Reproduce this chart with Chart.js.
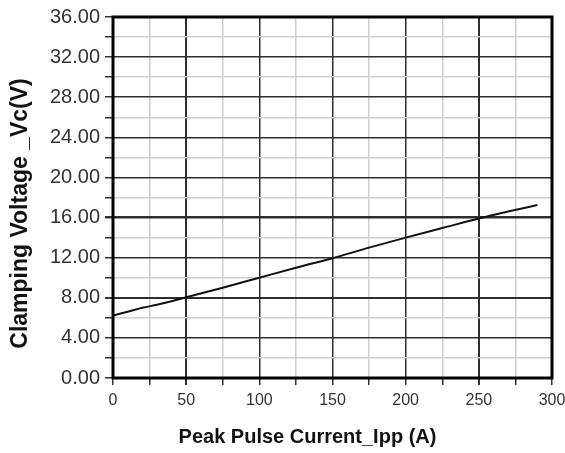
<!DOCTYPE html>
<html lang="en">
<head>
    <meta charset="UTF-8">
    <title>Clamping Voltage vs Peak Pulse Current</title>
    <script src="https://cdn.jsdelivr.net/npm/chart.js"></script>
    <style>
        body { margin: 0; background: #fff; }
    </style>
</head>
<body>
    <canvas id="vcChart" width="565" height="453"></canvas>
    <script>
        const currentA = [0, 10, 20, 30, 40, 50, 75, 100, 125, 150, 175, 200, 225, 250, 270, 290];
        const clampV = [6.25, 6.6, 7.0, 7.3, 7.65, 8.05, 9.0, 10.0, 11.0, 11.95, 13.0, 14.0, 14.95, 15.9, 16.6, 17.25];

        const xMin = 0, xMax = 300, xStep = 25, xLabelEvery = 50;
        const yMin = 0, yMax = 36, yStep = 2, yLabelEvery = 4;

        const frame = {
            id: 'frame',
            afterDraw(chart) {
                const a = chart.chartArea;
                const c = chart.ctx;
                c.save();
                c.strokeStyle = '#000';
                c.lineWidth = 3;
                c.strokeRect(a.left, a.top, a.right - a.left, a.bottom - a.top);
                c.restore();
            }
        };

        function gridColor(ctx, every) {
            const v = ctx.tick ? ctx.tick.value : 0;
            return (Math.abs(v % every) < 1e-6) ? '#2e2e2e' : '#cfcfcf';
        }

        new Chart(document.getElementById('vcChart'), {
            type: 'line',
            data: {
                datasets: [{
                    data: currentA.map((x, i) => ({ x: x, y: clampV[i] })),
                    borderColor: '#111',
                    borderWidth: 2,
                    pointRadius: 0,
                    cubicInterpolationMode: 'monotone',
                    fill: false
                }]
            },
            options: {
                responsive: false,
                animation: false,
                layout: { padding: { left: 0, right: 13, top: 17, bottom: 0 } },
                plugins: { legend: { display: false }, tooltip: { enabled: false } },
                scales: {
                    x: {
                        type: 'linear',
                        min: xMin, max: xMax,
                        afterFit: s => { s.height = 75; s.paddingRight = 0; },
                        grid: {
                            color: ctx => gridColor(ctx, xLabelEvery),
                            lineWidth: ctx => (ctx.tick && (ctx.tick.value === 50 || ctx.tick.value === 250)) ? 2 : 1.5,
                            tickColor: '#333',
                            tickLength: 7,
                            drawTicks: true
                        },
                        border: { display: false },
                        ticks: {
                            stepSize: xStep,
                            padding: 6,
                            color: '#333',
                            font: { family: 'Liberation Sans, Arial', size: 16 },
                            autoSkip: false,
                            maxRotation: 0,
                            callback: v => (v % xLabelEvery === 0) ? String(v) : ''
                        },
                        title: {
                            display: true,
                            // trailing spaces nudge the title left like the original
                            text: 'Peak Pulse Current_Ipp (A)         ',
                            color: '#111',
                            font: { family: 'Liberation Sans, Arial', size: 20, weight: 'bold' },
                            padding: { top: 6 }
                        }
                    },
                    y: {
                        min: yMin, max: yMax,
                        afterFit: s => { s.width = 113; },
                        grid: {
                            color: ctx => gridColor(ctx, yLabelEvery),
                            lineWidth: ctx => (ctx.tick && (ctx.tick.value === 16)) ? 2.5 : (ctx.tick && ctx.tick.value === 8 ? 2 : 1.5),
                            tickColor: '#333',
                            tickLength: 8,
                            drawTicks: true
                        },
                        border: { display: false },
                        ticks: {
                            stepSize: yStep,
                            padding: 5,
                            color: '#333',
                            font: { family: 'Liberation Sans, Arial', size: 20 },
                            autoSkip: false,
                            callback: v => (v % yLabelEvery === 0) ? v.toFixed(2) : ''
                        },
                        title: {
                            display: true,
                            // trailing spaces push the title down like the original
                            text: 'Clamping Voltage _Vc(V)     ',
                            color: '#111',
                            font: { family: 'Liberation Sans, Arial', size: 23, weight: 'bold' },
                            padding: { top: 7, bottom: 7 }
                        }
                    }
                }
            },
            plugins: [frame]
        });
    </script>
</body>
</html>
